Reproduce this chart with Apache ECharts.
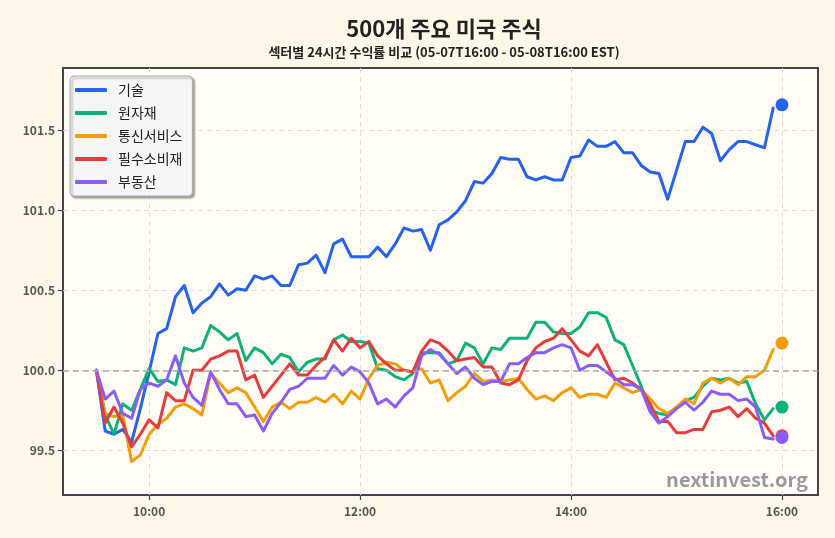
<!DOCTYPE html>
<html>
<head>
<meta charset="utf-8">
<title>500개 주요 미국 주식</title>
<script src="https://cdn.jsdelivr.net/npm/echarts@6/dist/echarts.min.js"></script>
<style>
  body { margin: 0; background: #fdf7e7; }
  #chart { width: 835px; height: 538px; }
</style>
</head>
<body>
<div id="chart"></div>
<script>
// 섹터 이름과 색
var sectors = ['기술', '원자재', '통신서비스', '필수소비재', '부동산'];
var colors = ['#2563eb', '#10b07a', '#f29e0c', '#e63c3c', '#8b5cf6'];

// 09:30 부터 5분 간격 (분 단위)
var startMinute = 9 * 60 + 30;
var stepMinute = 5;
var endMinute = 16 * 60;

// 섹터별 수익률 지수 (시작 = 100)
var tech = [100.0, 99.62, 99.6, 99.63, 99.55, 99.76, 99.99, 100.23, 100.26, 100.46,
  100.53, 100.36, 100.42, 100.46, 100.54, 100.47, 100.51, 100.5, 100.59, 100.57,
  100.59, 100.53, 100.53, 100.66, 100.67, 100.72, 100.61, 100.79, 100.82, 100.71,
  100.71, 100.71, 100.77, 100.71, 100.79, 100.89, 100.87, 100.88, 100.75, 100.91,
  100.94, 100.99, 101.06, 101.18, 101.17, 101.23, 101.33, 101.32, 101.32, 101.21,
  101.19, 101.21, 101.19, 101.19, 101.33, 101.34, 101.44, 101.4, 101.4, 101.43,
  101.36, 101.36, 101.28, 101.24, 101.23, 101.07, 101.25, 101.43, 101.43, 101.52,
  101.48, 101.31, 101.38, 101.43, 101.43, 101.41, 101.39, 101.64];
var materials = [100.0, 99.72, 99.6, 99.79, 99.75, 99.88, 100.01, 99.93, 99.94, 99.91,
  100.14, 100.12, 100.14, 100.28, 100.24, 100.19, 100.23, 100.06, 100.14, 100.11,
  100.04, 100.1, 100.08, 99.99, 100.05, 100.07, 100.07, 100.19, 100.22, 100.18,
  100.18, 100.17, 100.01, 100.0, 99.96, 99.94, 99.98, 100.11, 100.11, 100.11,
  100.04, 100.06, 100.17, 100.14, 100.04, 100.14, 100.13, 100.2, 100.2, 100.2,
  100.3, 100.3, 100.24, 100.23, 100.23, 100.27, 100.36, 100.36, 100.33, 100.19,
  100.16, 100.03, 99.9, 99.75, 99.73, 99.72, 99.76, 99.81, 99.83, 99.9,
  99.95, 99.94, 99.95, 99.92, 99.93, 99.79, 99.69, 99.76];
var telecom = [100.0, 99.73, 99.71, 99.72, 99.43, 99.47, 99.6, 99.66, 99.7, 99.77,
  99.79, 99.76, 99.72, 99.98, 99.92, 99.86, 99.89, 99.86, 99.77, 99.68,
  99.77, 99.8, 99.76, 99.8, 99.8, 99.83, 99.8, 99.85, 99.79, 99.87,
  99.82, 99.95, 100.03, 100.05, 100.04, 100.0, 99.99, 100.01, 99.92, 99.94,
  99.81, 99.86, 99.9, 99.98, 99.93, 99.94, 99.93, 99.94, 99.95, 99.88,
  99.82, 99.84, 99.81, 99.86, 99.89, 99.83, 99.85, 99.85, 99.83, 99.92,
  99.89, 99.86, 99.88, 99.82, 99.76, 99.73, 99.77, 99.82, 99.79, 99.92,
  99.95, 99.92, 99.95, 99.91, 99.96, 99.96, 100.0, 100.13];
var staples = [100.0, 99.67, 99.77, 99.67, 99.52, 99.6, 99.69, 99.64, 99.86, 99.81,
  99.81, 100.0, 100.0, 100.07, 100.09, 100.12, 100.12, 99.94, 99.97, 99.83,
  99.9, 99.97, 100.04, 99.97, 99.97, 100.03, 100.08, 100.19, 100.12, 100.2,
  100.14, 100.18, 100.09, 100.04, 100.0, 100.0, 99.99, 100.12, 100.19, 100.17,
  100.12, 100.06, 100.07, 100.08, 100.02, 100.02, 99.92, 99.91, 99.94, 100.06,
  100.14, 100.18, 100.2, 100.26, 100.19, 100.12, 100.09, 100.16, 100.05, 99.94,
  99.95, 99.92, 99.88, 99.79, 99.68, 99.68, 99.61, 99.61, 99.63, 99.63,
  99.74, 99.75, 99.77, 99.71, 99.76, 99.7, 99.67, 99.59];
var realEstate = [100.0, 99.82, 99.87, 99.73, 99.7, 99.88, 99.92, 99.9, 99.94, 100.09,
  99.92, 99.83, 99.78, 99.99, 99.88, 99.79, 99.79, 99.71, 99.72, 99.62,
  99.73, 99.8, 99.88, 99.9, 99.95, 99.95, 99.95, 100.03, 99.97, 100.02,
  99.99, 99.92, 99.79, 99.82, 99.77, 99.84, 99.89, 100.09, 100.13, 100.1,
  100.04, 99.98, 100.02, 99.95, 99.91, 99.93, 99.93, 100.04, 100.04, 100.08,
  100.11, 100.11, 100.14, 100.16, 100.14, 100.0, 100.03, 100.03, 99.99, 99.95,
  99.91, 99.91, 99.88, 99.74, 99.67, 99.71, 99.76, 99.8, 99.75, 99.8,
  99.87, 99.85, 99.85, 99.81, 99.82, 99.77, 99.58, 99.57];
var sectorData = [tech, materials, telecom, staples, realEstate];

// 16:00 종가 (점)
var closeValues = [101.66, 99.77, 100.17, 99.59, 99.58];

// 기준선, 눈금
var baseline = 100;
var xTicks = [600, 720, 840, 960];
var yTicks = [99.5, 100.0, 100.5, 101.0, 101.5];

var fontFamily = "'Noto Sans CJK KR', 'Noto Sans', sans-serif";

function fmtTime(m) {
    var h = Math.floor(m / 60);
    var mm = m % 60;
    return (h < 10 ? '0' + h : h) + ':' + (mm < 10 ? '0' + mm : mm);
}

var chart = echarts.init(document.getElementById('chart'));

var series = [{
    name: 'baseline',
    type: 'line',
    data: [],
    silent: true,
    z: 1,
    markLine: {
        silent: true,
        symbol: 'none',
        label: {show: false},
        lineStyle: {color: '#a8a8a8', type: [6, 4], width: 1.5},
        data: [{yAxis: baseline}]
    }
}];

sectorData.forEach(function (vals, k) {
    series.push({
        name: sectors[k],
        type: 'line',
        showSymbol: false,
        symbol: 'none',
        z: 3,
        lineStyle: {width: 3, color: colors[k], cap: 'round', join: 'round'},
        itemStyle: {color: colors[k]},
        data: vals.map(function (v, i) { return [startMinute + i * stepMinute, v]; })
    });
});
sectorData.forEach(function (vals, k) {
    series.push({
        name: sectors[k],
        type: 'scatter',
        symbolSize: 13,
        z: 4,
        itemStyle: {color: colors[k], opacity: 1},
        data: [[endMinute, closeValues[k]]]
    });
});

var option = {
    backgroundColor: '#fdf7e7',
    animation: false,
    textStyle: {fontFamily: fontFamily},
    title: {
        text: '500개 주요 미국 주식',
        subtext: '섹터별 24시간 수익률 비교 (05-07T16:00 - 05-08T16:00 EST)',
        left: 439,
        textAlign: 'center',
        top: 13,
        itemGap: 6,
        textStyle: {fontSize: 22, fontWeight: 'bold', color: '#222', fontFamily: fontFamily},
        subtextStyle: {fontSize: 13, fontWeight: 'bold', color: '#222', fontFamily: fontFamily}
    },
    legend: {
        data: sectors,
        orient: 'vertical',
        left: 70,
        top: 76,
        padding: [6, 10, 6, 5],
        itemWidth: 32,
        itemHeight: 4,
        itemGap: 7,
        icon: 'roundRect',
        backgroundColor: '#f6f6f4',
        borderColor: '#aaa',
        borderWidth: 1,
        borderRadius: 4,
        shadowColor: 'rgba(0,0,0,0.35)',
        shadowBlur: 2,
        shadowOffsetX: 2,
        shadowOffsetY: 2,
        textStyle: {fontSize: 14, color: '#222', lineHeight: 16, padding: [0, 0, 0, 6], fontFamily: fontFamily}
    },
    graphic: [{
        type: 'text',
        right: 27,
        top: 469,
        z: 10,
        style: {
            text: 'nextinvest.org',
            fontSize: 20,
            fontWeight: 'bold',
            fill: '#9a9a9a',
            fontFamily: fontFamily
        }
    }],
    grid: {
        left: 63,
        right: 17,
        top: 68,
        bottom: 43,
        show: true,
        backgroundColor: '#fffdf5',
        borderColor: '#444',
        borderWidth: 2
    },
    xAxis: {
        type: 'value',
        min: 551,
        max: 980.5,
        axisLine: {show: false},
        axisTick: {show: true, length: 5, customValues: xTicks, lineStyle: {color: '#444', width: 1.2}},
        axisLabel: {
            customValues: xTicks,
            formatter: fmtTime,
            color: '#555',
            fontSize: 12,
            fontWeight: 'bold',
            margin: 10
        },
        splitLine: {show: true, lineStyle: {color: '#dedede', type: [5, 4], width: 1}}
    },
    yAxis: {
        type: 'value',
        min: 99.22,
        max: 101.89,
        axisLine: {show: false},
        axisTick: {show: true, length: 5, customValues: yTicks, lineStyle: {color: '#444', width: 1.2}},
        axisLabel: {
            customValues: yTicks,
            formatter: function (v) { return v.toFixed(1); },
            color: '#555',
            fontSize: 12,
            fontWeight: 'bold',
            margin: 8
        },
        splitLine: {show: true, lineStyle: {color: '#dedede', type: [5, 4], width: 1}}
    },
    series: series
};

chart.setOption(option);
</script>
</body>
</html>
